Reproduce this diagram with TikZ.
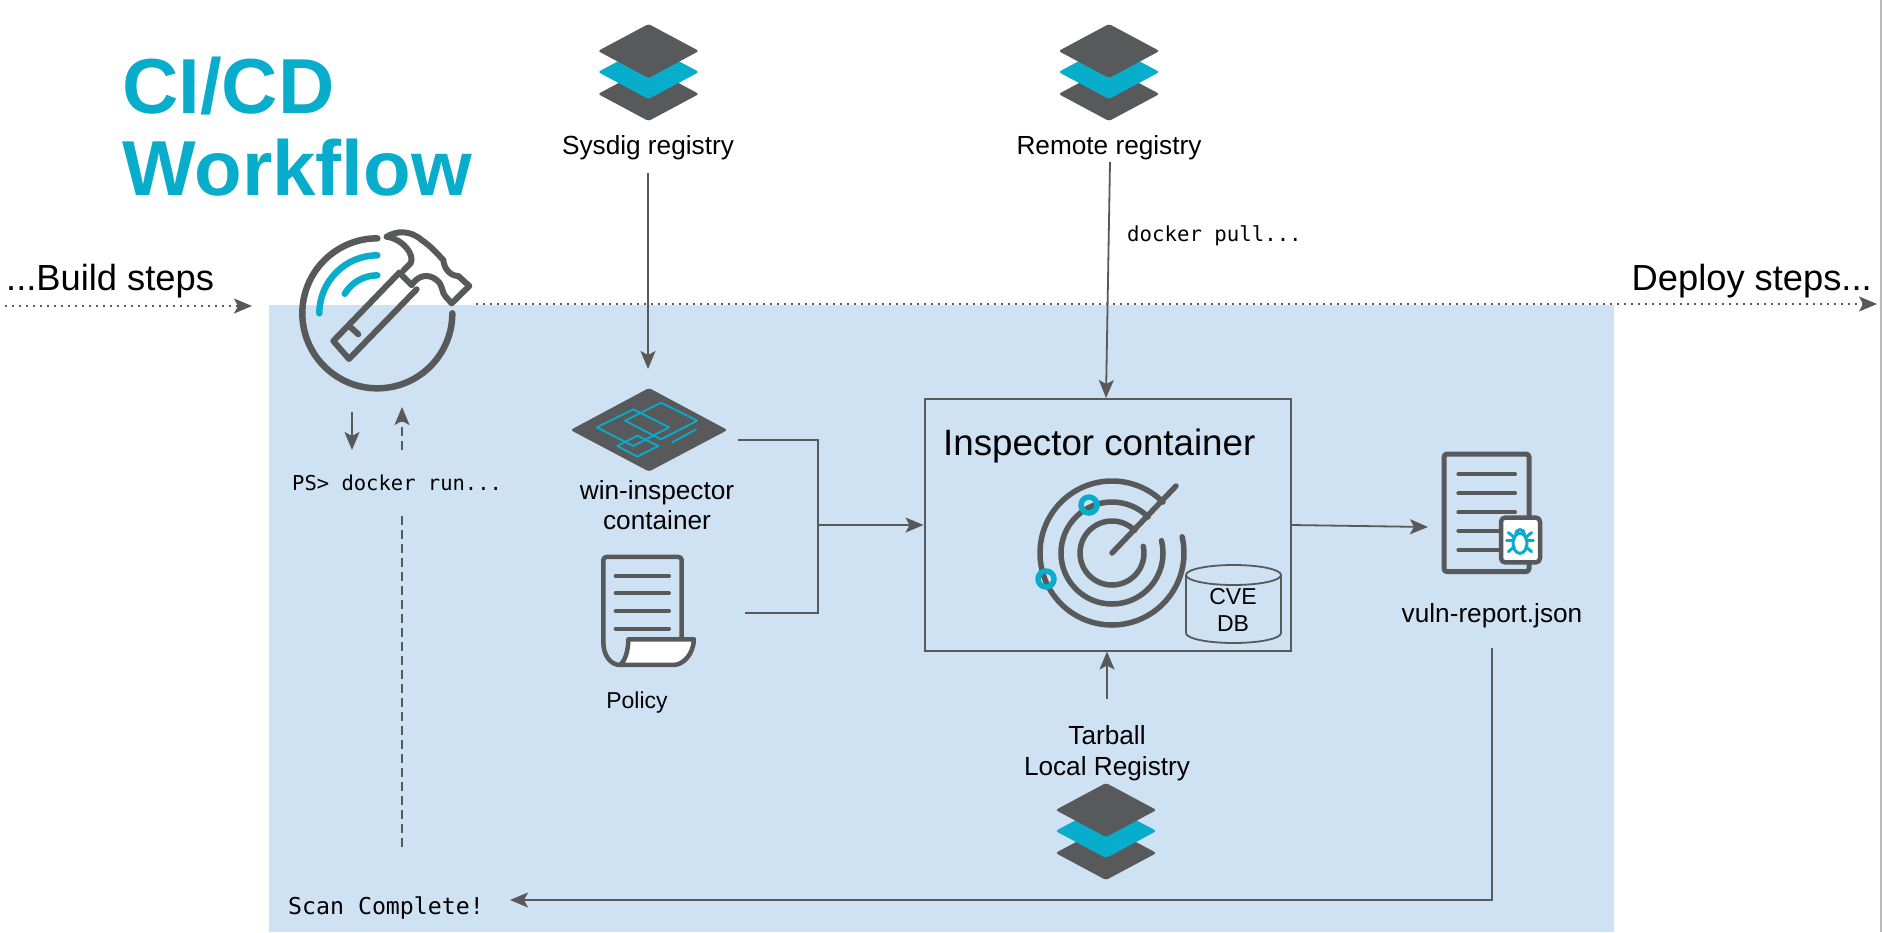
\documentclass[tikz,border=0pt]{standalone}
\usepackage{fontspec}
\setmainfont{Liberation Sans}
\newfontfamily\monof{DejaVu Sans Mono}
\usetikzlibrary{arrows.meta}
\definecolor{igray}{HTML}{58595B}
\definecolor{iteal}{HTML}{08ADCB}
\definecolor{iblue}{HTML}{CFE2F3}
\definecolor{conn}{HTML}{595959}
\tikzset{
  lbl/.style={inner sep=0pt,anchor=base,font=\fontsize{#1}{#1}\selectfont,text=black},
  lbl/.default=26.2,
  monolbl/.style={inner sep=0pt,anchor=base west,font=\monof\fontsize{#1}{#1}\selectfont,text=black},
  arr/.style={conn,line width=1.8pt,-{Stealth[length=18pt,width=15pt,inset=4pt]}},
  plain/.style={conn,line width=1.8pt},
  dotarr/.style={conn,line width=1.9pt,dash pattern=on 1.9pt off 5.1pt,-{Stealth[length=18pt,width=15pt,inset=4pt]}},
  dasharr/.style={conn,line width=2pt,dash pattern=on 9pt off 5pt},
  icon/.style={igray,line width=5pt,line cap=round,line join=round},
  zoomed/.style={x=0.3333pt,y=-0.3333pt},
  regstack/.pic={
    \fill[igray,rounded corners=2.5pt] (-50.5,43)--(0,16)--(50.5,43)--(0,70)--cycle;
    \fill[iteal,rounded corners=2.5pt] (-50.5,21)--(0,-6)--(50.5,21)--(0,48)--cycle;
    \fill[igray,rounded corners=2.5pt] (-50.5,0)--(0,-27)--(50.5,0)--(0,27)--cycle;
  }
}
\begin{document}
\begin{tikzpicture}[x=1pt,y=-1pt]
\useasboundingbox (0,0) rectangle (1882,932);
\fill[white] (0,0) rectangle (1882,932);
\fill[iblue] (269,305) rectangle (1614,932);
\draw[gray!55,line width=2pt] (1881,0) -- (1881,932);

% title
\node[inner sep=0pt,anchor=base west,text=iteal,font=\bfseries\fontsize{78}{78}\selectfont] (title1) at (122,113) {CI/CD};
\node[inner sep=0pt,anchor=base west,text=iteal,font=\bfseries\fontsize{78}{78}\selectfont] (title2) at (122,195) {Workflow};

% registries
\pic at (648.5,51) {regstack};
\pic at (1109,51) {regstack};
\pic at (1106,810) {regstack};
\node[lbl] (sysdig) at (648,154) {Sysdig registry};
\node[lbl] (remote) at (1109,154) {Remote registry};
\node[lbl] (tarball) at (1107,744) {Tarball};
\node[lbl] (local) at (1107,775) {Local Registry};
\node[monolbl=20.7] (pull) at (1127,241) {docker pull...};

% step labels
\node[inner sep=0pt,anchor=base west,font=\fontsize{36.3}{36.3}\selectfont] (build) at (6,290) {...Build steps};
\node[inner sep=0pt,anchor=base east,font=\fontsize{36.3}{36.3}\selectfont] (deploy) at (1872,290) {Deploy steps...};
\coordinate (bs) at (5,306);
\coordinate (be) at (252,306);
\coordinate (ds) at (476,304);
\coordinate (de) at (1877,304);
\draw[dotarr] (bs) -- (be);
\draw[dotarr] (ds) -- (de);

% hammer icon
\begin{scope}[shift={(240,200)},zoomed]
  \coordinate (hc) at (412,340);
  \draw[icon,line width=6.5pt] (hc) ++(90:75pt) arc[start angle=90,end angle=360,radius=75pt];
  \draw[icon,iteal,line width=6.5pt] (hc) ++(90:58pt) arc[start angle=90,end angle=180,radius=58pt];
  \draw[icon,iteal,line width=6.5pt] (hc) ++(90:38pt) arc[start angle=90,end angle=149,radius=38pt];
  \draw[icon,line width=6pt] (478,218) -- (280,423) -- (327,477) -- (530,268);
  \draw[icon,line width=6pt] (478,218) -- (515,255);
  \draw[icon,line width=6pt] (330,380) -- (355,403);
  \draw[icon,line width=6pt] (440,110) .. controls (470,92) and (510,90) .. (545,120)
     .. controls (575,140) and (595,165) .. (610,180)
     .. controls (612,205) and (630,228) .. (655,228) -- (688,258) -- (635,310) -- (617,290)
     .. controls (605,280) and (610,255) .. (590,240)
     .. controls (565,220) and (535,225) .. (515,255);
  \draw[icon,line width=6pt] (440,110) .. controls (490,118) and (525,165) .. (512,190) -- (490,212);
\end{scope}

% docker run
\node[monolbl=20.5] (run) at (292,490) {PS> docker run...};
\coordinate (d1) at (352,412);
\coordinate (d2) at (352,450);
\draw[arr] (d1) -- (d2);
\coordinate (u1) at (402,450);
\coordinate (u2) at (402,407);
\coordinate (u3) at (402,852);
\coordinate (u4) at (402,516);
\draw[dasharr] (u4) -- (u3);
\draw[dasharr,-{Stealth[length=18pt,width=15pt,inset=4pt]}] (u1) -- (u2);
\node[monolbl=23.2] (scan) at (288,914) {Scan Complete!};

% win-inspector icon
\fill[igray,rounded corners=2.5pt] (570.5,430) -- (649,388) -- (727.5,430) -- (649,471.5) -- cycle;
\begin{scope}[shift={(550,370)},zoomed,iteal,line width=1.8pt,line join=round]
  \draw (140,172) -- (250,118) -- (357,172) -- (250,228) -- cycle;
  \draw (225,152) -- (333,98) -- (442,152) -- (333,208) -- cycle;
  \draw (202,228) -- (262,197) -- (325,228) -- (262,260) -- cycle;
  \draw (365,218) -- (440,177);
\end{scope}
\node[lbl] (win1) at (657,499) {win-inspector};
\node[lbl] (win2) at (657,529) {container};

% policy icon
\begin{scope}[shift={(550,371)},zoomed]
  \draw[icon,line width=4.5pt,rounded corners=3pt] (395,805) -- (395,558) -- (160,558) -- (160,815);
  \draw[icon,line width=4.5pt,fill=white] (235,805) -- (432,805)
     .. controls (430,850) and (400,882) .. (370,882) -- (210,882)
     .. controls (225,870) and (235,840) .. (235,805) -- cycle;
  \draw[icon,line width=4.5pt] (160,815) .. controls (160,850) and (180,882) .. (210,882);
  \foreach \yy in {615,667,720,773} \draw[icon,line width=4pt] (197,\yy) -- (357,\yy);
\end{scope}
\node[lbl=23] (policy) at (637,708) {Policy};

% connectors to the inspector
\node[draw=conn,line width=2pt,minimum width=366pt,minimum height=252pt,inner sep=0pt] (box) at (1107.5,524.5) {};
\coordinate (w1) at (738,440);
\coordinate (w2) at (818,440);
\coordinate (p1) at (745,613);
\coordinate (p2) at (818,613);
\coordinate (jn) at (818,525);
\draw[plain,line join=miter] (w1) -- (w2) -- (p2) -- (p1);
\draw[arr] (jn) -- (box.west |- jn);
\coordinate (srcS) at (648,173);
\coordinate (tipS) at (648,369);
\draw[arr] (srcS) -- (tipS);
\coordinate (srcR) at (1110,162);
\draw[arr] (srcR) -- (1106,398);
\coordinate (srcT) at (1107,699);
\draw[arr] (srcT) -- (box.south -| srcT);

\node[lbl=36.7,anchor=base west] (insp) at (943,455) {Inspector container};

% radar
\coordinate (rc) at (1112,553);
\begin{scope}[icon,line width=5.5pt]
  \draw (rc) ++(45:72pt) arc[start angle=45,end angle=373,radius=72pt];
  \draw (rc) ++(45:51pt) arc[start angle=45,end angle=374,radius=51pt];
  \draw (rc) ++(45:32pt) arc[start angle=45,end angle=372,radius=32pt];
  \draw (rc) -- (1176,486);
\end{scope}
\draw[iteal,line width=5.5pt] (1089,505) circle[radius=8pt];
\draw[iteal,line width=5.5pt] (1046,579) circle[radius=8pt];

% CVE DB
\draw[igray,line width=1.8pt] (1186,575) -- (1186,633) arc[start angle=180,end angle=360,x radius=47.5pt,y radius=10pt] -- (1281,575);
\draw[igray,line width=1.8pt] (1233.5,575) ellipse[x radius=47.5pt,y radius=10pt];
\node[lbl=23] (cve) at (1233,604) {CVE};
\node[lbl=23] (db) at (1233,631) {DB};

% report
\coordinate (rs) at (1291,525);
\coordinate (re) at (1428,527);
\draw[arr] (rs) -- (re);
\begin{scope}[shift={(1420,440)},zoomed]
  \draw[icon,line width=5pt,rounded corners=3pt] (72,42) rectangle (327,395);
  \foreach \yy in {103,160,217,273,330} \draw[icon,line width=4pt] (115,\yy) -- (285,\yy);
  \draw[icon,line width=4.5pt,fill=white,rounded corners=4pt] (243,233) rectangle (360,367);
  \begin{scope}[iteal,line width=3pt,line cap=round]
    \draw (300,310) ellipse[x radius=7pt,y radius=10pt];
    \draw (287,282) arc[start angle=180,end angle=0,radius=4.4pt];
    \draw (260,303) -- (280,303);
    \draw (340,303) -- (320,303);
    \draw (265,278) -- (283,292);
    \draw (335,278) -- (317,292);
    \draw (265,335) -- (283,320);
    \draw (335,335) -- (317,320);
  \end{scope}
\end{scope}
\node[lbl=26.2] (vuln) at (1492,622) {vuln-report.json};
\coordinate (v1) at (1492,648);
\coordinate (v2) at (1492,900);
\coordinate (v3) at (510,900);
\draw[arr] (v1) -- (v2) -- (v3);
\end{tikzpicture}
\end{document}
